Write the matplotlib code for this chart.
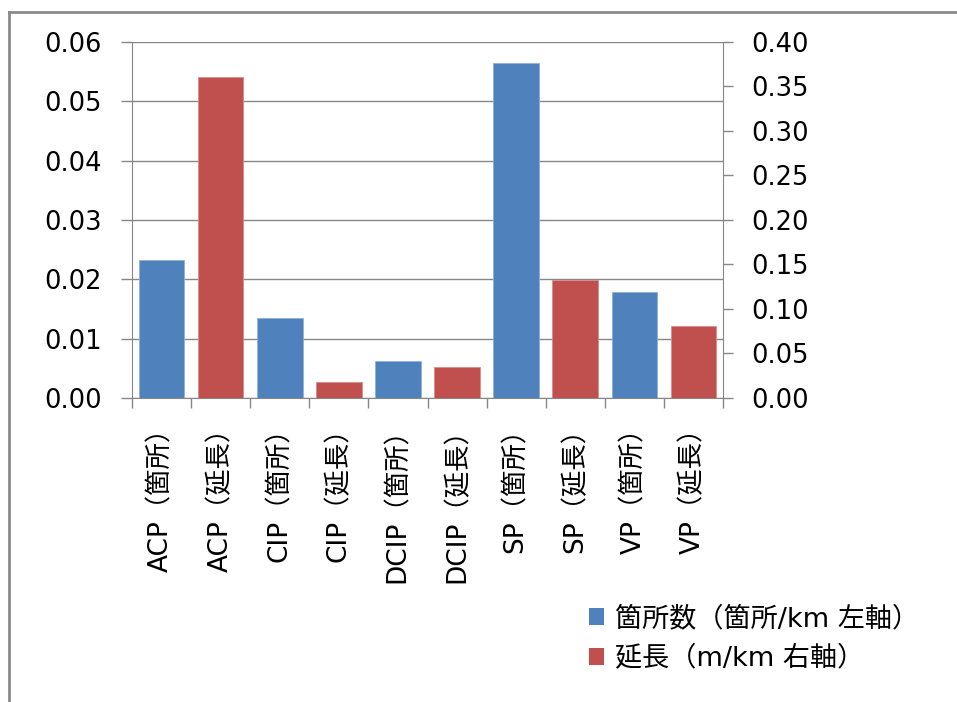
import matplotlib
matplotlib.use("Agg")
import matplotlib.pyplot as plt
from matplotlib.patches import Patch
from matplotlib.lines import Line2D
import numpy as np

plt.rcParams['font.family'] = ['DejaVu Sans', 'Noto Sans CJK JP']

categories = ["ACP（箇所）", "ACP（延長）", "CIP（箇所）", "CIP（延長）",
              "DCIP（箇所）", "DCIP（延長）", "SP（箇所）", "SP（延長）",
              "VP（箇所）", "VP（延長）"]
count_idx = [0, 2, 4, 6, 8]      # 箇所 categories
length_idx = [1, 3, 5, 7, 9]     # 延長 categories
count_vals = [0.0233, 0.0135, 0.0062, 0.0564, 0.0179]   # 箇所/km (left axis)
length_vals = [0.361, 0.018, 0.035, 0.133, 0.081]       # m/km (right axis)
left_ticks = [0.00, 0.01, 0.02, 0.03, 0.04, 0.05, 0.06]
right_ticks = [0.00, 0.05, 0.10, 0.15, 0.20, 0.25, 0.30, 0.35, 0.40]
legend_labels = ["箇所数（箇所/km 左軸）", "延長（m/km 右軸）"]

blue = '#4F81BD'
red = '#C0504D'
axis_gray = '#878787'
fs_tick = 18.5
fs_cat = 19
fs_leg = 19.5

W, H = 957, 702
fig = plt.figure(figsize=(W / 100, H / 100), dpi=100)
L, R, T, B = 132, 723, 42, 398
ax = fig.add_axes([L / W, 1 - B / H, (R - L) / W, (B - T) / H])
ax2 = ax.twinx()

n = len(categories)
width = 0.77
ax.bar(count_idx, count_vals, width=width, color=blue, edgecolor='#8FB0D8', linewidth=0.6, zorder=3)
ax2.bar(length_idx, length_vals, width=width, color=red, edgecolor='#D98C8A', linewidth=0.6, zorder=3)

ax.set_xlim(-0.5, n - 0.5)
ax.set_ylim(0, 0.06)
ax2.set_ylim(0, 0.40)
ax.set_yticks(left_ticks)
ax.set_yticklabels([f"{v:.2f}" for v in left_ticks])
ax2.set_yticks(right_ticks)
ax2.set_yticklabels([f"{v:.2f}" for v in right_ticks])

ax.yaxis.grid(True, color=axis_gray, linewidth=1.0, zorder=0)
ax.set_axisbelow(True)

ax.set_xticks(range(n))
ax.set_xticklabels(categories, rotation=90, fontsize=fs_cat, va='top', ha='center')
ax.set_xticks(np.arange(-0.5, n, 1.0), minor=True)
ax.tick_params(axis='x', which='major', length=0, pad=12)
ax.tick_params(axis='x', which='minor', length=7.5, width=1.0, color=axis_gray, direction='out')
ax.tick_params(axis='y', length=8, width=1.0, color=axis_gray, direction='out', labelsize=fs_tick, pad=14)
ax2.tick_params(axis='y', length=7.5, width=1.0, color=axis_gray, direction='out', labelsize=fs_tick, pad=13)

for a in (ax, ax2):
    for s in a.spines.values():
        s.set_visible(False)
ax.spines['left'].set_visible(True)
ax.spines['left'].set_color(axis_gray)
ax.spines['bottom'].set_visible(True)
ax.spines['bottom'].set_color(axis_gray)
ax2.spines['right'].set_visible(True)
ax2.spines['right'].set_color(axis_gray)

handles = [Patch(facecolor=blue, edgecolor='none'), Patch(facecolor=red, edgecolor='none')]
fig.legend(handles, legend_labels, loc='upper left', bbox_to_anchor=(589 / W, 1 - 606 / H),
           frameon=False, fontsize=fs_leg, handlelength=0.55, handleheight=0.55,
           handletextpad=0.4, labelspacing=0.52, borderpad=0, borderaxespad=0)

# outer chart frame (only left and top edges visible)
fig.add_artist(Line2D([9 / W, 9 / W], [0, 1 - 12 / H], transform=fig.transFigure, color='#8A8A8A', linewidth=2))
fig.add_artist(Line2D([9 / W, 1], [1 - 12 / H, 1 - 12 / H], transform=fig.transFigure, color='#8A8A8A', linewidth=2))

fig.savefig("out.png", dpi=100)
